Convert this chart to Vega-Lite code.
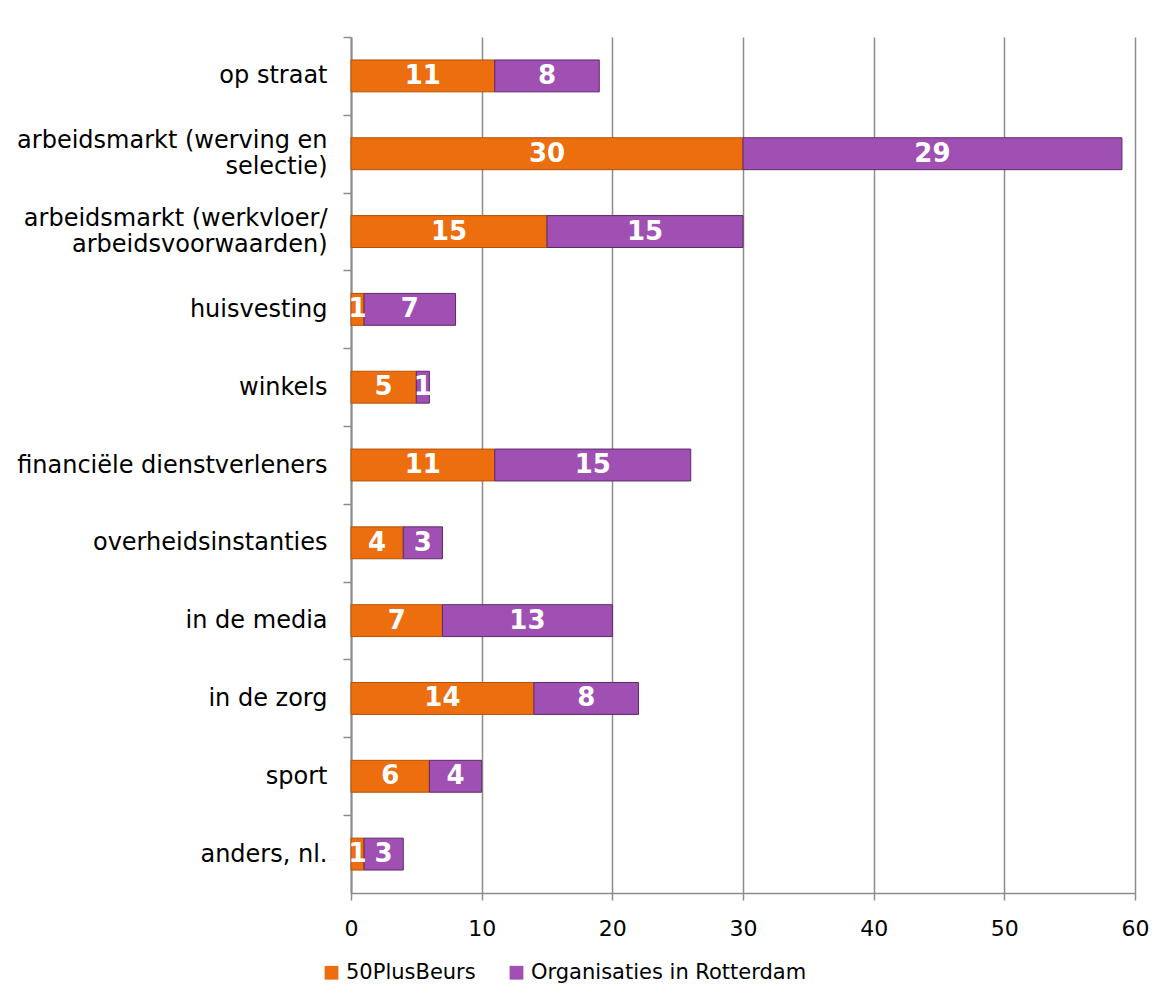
{
  "$schema": "https://vega.github.io/schema/vega-lite/v6.json",
  "width": 784,
  "height": 856,
  "autosize": {"type": "none"},
  "padding": {"left": 351, "top": 37, "right": 22, "bottom": 115},
  "background": "white",
  "config": {
    "font": "DejaVu Sans",
    "view": {"stroke": null}
  },
  "data": {
    "values": [
      {"cat": "op straat", "series": "50PlusBeurs", "ord": 1, "value": 11},
      {"cat": "op straat", "series": "Organisaties in Rotterdam", "ord": 2, "value": 8},
      {"cat": "arbeidsmarkt (werving en|selectie)", "series": "50PlusBeurs", "ord": 1, "value": 30},
      {"cat": "arbeidsmarkt (werving en|selectie)", "series": "Organisaties in Rotterdam", "ord": 2, "value": 29},
      {"cat": "arbeidsmarkt (werkvloer/|arbeidsvoorwaarden)", "series": "50PlusBeurs", "ord": 1, "value": 15},
      {"cat": "arbeidsmarkt (werkvloer/|arbeidsvoorwaarden)", "series": "Organisaties in Rotterdam", "ord": 2, "value": 15},
      {"cat": "huisvesting", "series": "50PlusBeurs", "ord": 1, "value": 1},
      {"cat": "huisvesting", "series": "Organisaties in Rotterdam", "ord": 2, "value": 7},
      {"cat": "winkels", "series": "50PlusBeurs", "ord": 1, "value": 5},
      {"cat": "winkels", "series": "Organisaties in Rotterdam", "ord": 2, "value": 1},
      {"cat": "financiële dienstverleners", "series": "50PlusBeurs", "ord": 1, "value": 11},
      {"cat": "financiële dienstverleners", "series": "Organisaties in Rotterdam", "ord": 2, "value": 15},
      {"cat": "overheidsinstanties", "series": "50PlusBeurs", "ord": 1, "value": 4},
      {"cat": "overheidsinstanties", "series": "Organisaties in Rotterdam", "ord": 2, "value": 3},
      {"cat": "in de media", "series": "50PlusBeurs", "ord": 1, "value": 7},
      {"cat": "in de media", "series": "Organisaties in Rotterdam", "ord": 2, "value": 13},
      {"cat": "in de zorg", "series": "50PlusBeurs", "ord": 1, "value": 14},
      {"cat": "in de zorg", "series": "Organisaties in Rotterdam", "ord": 2, "value": 8},
      {"cat": "sport", "series": "50PlusBeurs", "ord": 1, "value": 6},
      {"cat": "sport", "series": "Organisaties in Rotterdam", "ord": 2, "value": 4},
      {"cat": "anders, nl.", "series": "50PlusBeurs", "ord": 1, "value": 1},
      {"cat": "anders, nl.", "series": "Organisaties in Rotterdam", "ord": 2, "value": 3}
    ]
  },
  "transform": [
    {"stack": "value", "groupby": ["cat"], "sort": [{"field": "ord"}], "as": ["x0", "x1"]},
    {"calculate": "(datum.x0 + datum.x1) / 2", "as": "mid"}
  ],
  "encoding": {
    "y": {
      "field": "cat",
      "type": "nominal",
      "sort": null,
      "scale": {"paddingInner": 0.59, "paddingOuter": 0.295},
      "axis": {
        "title": null,
        "labelExpr": "split(datum.label, '|')",
        "labelFontSize": 24,
        "labelColor": "#000000",
        "labelPadding": 16,
        "labelLimit": 400,
        "labelLineHeight": 26,
        "tickOffset": -39,
        "labelOffset": {"condition": {"test": "indexof(datum.value, '|') >= 0", "value": 26}, "value": 39},
        "domainColor": "#8c8c8c",
        "domainWidth": 2,
        "tickColor": "#8c8c8c",
        "tickWidth": 1.5,
        "tickSize": 8,
        "grid": false
      }
    }
  },
  "layer": [
    {
      "mark": {"type": "bar", "strokeWidth": 1},
      "encoding": {
        "x": {
          "field": "x0",
          "type": "quantitative",
          "scale": {"domain": [0, 60], "nice": false},
          "axis": {
            "title": null,
            "values": [0, 10, 20, 30, 40, 50, 60],
            "domain": true,
            "domainColor": "#8c8c8c",
            "domainWidth": 1.5,
            "ticks": true,
            "tickColor": "#8c8c8c",
            "tickWidth": 1.5,
            "tickSize": 7,
            "grid": true,
            "gridColor": "#8c8c8c",
            "gridWidth": 1.5,
            "labelFontSize": 22,
            "labelColor": "#000000",
            "labelPadding": 18,
            "labelFlush": false
          }
        },
        "x2": {"field": "x1"},
        "color": {
          "field": "series",
          "type": "nominal",
          "scale": {
            "domain": ["50PlusBeurs", "Organisaties in Rotterdam"],
            "range": ["#EC6E0E", "#A04FB2"]
          },
          "legend": {
            "title": null,
            "orient": "none",
            "legendX": -30,
            "legendY": 925,
            "direction": "horizontal",
            "symbolType": "square",
            "symbolSize": 190,
            "symbolStrokeWidth": 0,
            "labelFontSize": 21,
            "labelColor": "#000000",
            "labelOffset": 4,
            "labelLimit": 500,
            "columnPadding": 30
          }
        },
        "stroke": {
          "field": "series",
          "type": "nominal",
          "scale": {
            "domain": ["50PlusBeurs", "Organisaties in Rotterdam"],
            "range": ["#B35208", "#5E2A6A"]
          },
          "legend": null
        }
      }
    },
    {
      "mark": {"type": "text", "color": "white", "fontWeight": "bold", "fontSize": 26, "baseline": "middle", "align": "center"},
      "encoding": {
        "x": {"field": "mid", "type": "quantitative"},
        "text": {"field": "value", "type": "quantitative"}
      }
    }
  ]
}
